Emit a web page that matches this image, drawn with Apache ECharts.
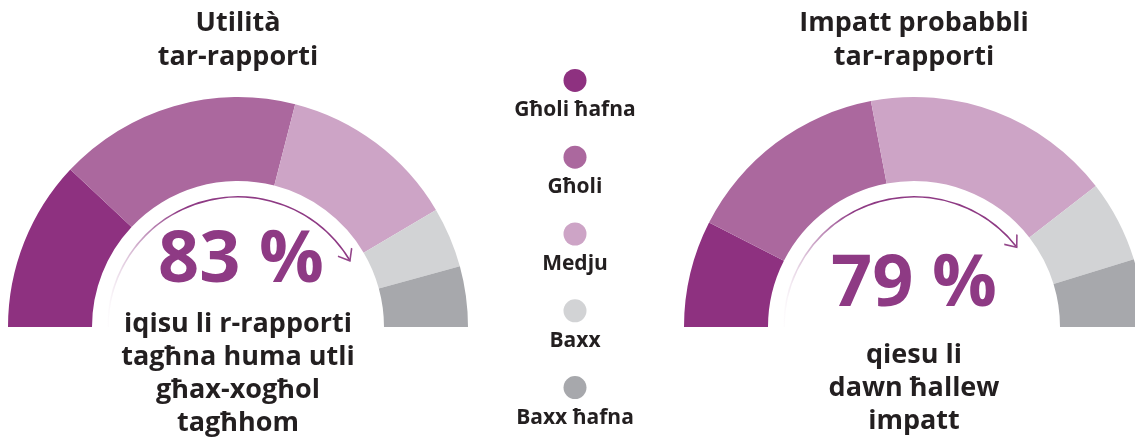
<!DOCTYPE html>
<html>
<head>
<meta charset="utf-8">
<script src="https://cdn.jsdelivr.net/npm/echarts@6/dist/echarts.min.js"></script>
<style>
  html, body { margin: 0; padding: 0; background: #ffffff; }
  #chart { width: 1135px; height: 444px; }
</style>
</head>
<body>
<div id="chart"></div>
<script>
// ---- Data ----
const levels = ['Għoli ħafna', 'Għoli', 'Medju', 'Baxx', 'Baxx ħafna'];
const utilityValues = [24, 34, 25, 8.5, 8.5];
const impactValues = [15, 29, 35, 11.5, 9.5];
const utilityScore = 83;
const impactScore = 79;
const utilityTitle = 'Utilità\ntar-rapporti';
const impactTitle = 'Impatt probabbli\ntar-rapporti';
const utilityCaption = 'iqisu li r-rapporti\ntagħna huma utli\ngħax-xogħol\ntagħhom';
const impactCaption = 'qiesu li\ndawn ħallew\nimpatt';

// ---- Styles ----
const levelColors = ['#8e3180', '#ab689e', '#cda4c6', '#d2d3d5', '#a7a8ac'];
const FONT = "'Open Sans', 'Noto Sans', sans-serif";
const TEXT = '#231f20';
const ACCENT = '#8e3a84';

const chart = echarts.init(document.getElementById('chart'), null, { renderer: 'canvas' });

function halfDonut(values, center) {
  const total = values.reduce((a, b) => a + b, 0);
  const data = values.map((v, i) => ({ name: levels[i], value: v, itemStyle: { color: levelColors[i] } }));
  data.push({ name: '', value: total, itemStyle: { color: 'rgba(0,0,0,0)' } });
  return {
    type: 'pie',
    center: center,
    radius: [146, 230],
    startAngle: 180,
    clockwise: true,
    silent: true,
    label: { show: false },
    labelLine: { show: false },
    itemStyle: { borderWidth: 0, opacity: 1 },
    data: data
  };
}

function arcGauge(score, caption, center, detailOffset, titleOffset) {
  return {
    type: 'gauge',
    center: center,
    radius: 131,
    startAngle: 180,
    endAngle: 0,
    min: 0,
    max: 100,
    silent: true,
    axisLine: { show: false },
    axisTick: { show: false },
    splitLine: { show: false },
    axisLabel: { show: false },
    pointer: { show: false },
    anchor: { show: false },
    progress: {
      show: true,
      width: 1.6,
      itemStyle: {
        color: {
          type: 'linear', x: 0, y: 0, x2: 1, y2: 0,
          colorStops: [
            { offset: 0, color: 'rgba(142,58,132,0)' },
            { offset: 0.3, color: 'rgba(142,58,132,1)' }
          ]
        }
      }
    },
    title: {
      show: true,
      offsetCenter: titleOffset,
      color: TEXT,
      fontFamily: FONT,
      fontWeight: 'bold',
      fontSize: 27,
      lineHeight: 33
    },
    detail: {
      show: true,
      offsetCenter: detailOffset,
      formatter: '{value} %',
      color: ACCENT,
      fontFamily: FONT,
      fontWeight: 'bold',
      fontSize: 72
    },
    data: [{ value: score, name: caption }]
  };
}

function arrowHead(score, polarIndex) {
  return {
    type: 'scatter',
    coordinateSystem: 'polar',
    polarIndex: polarIndex,
    silent: true,
    symbol: 'path://M0,10 L8,0 L16,10 M8,-10',
    symbolSize: [16, 20],
    symbolRotate: function (v) { return -v[1] * 1.8; },
    itemStyle: { color: 'rgba(0,0,0,0)', borderColor: '#93468a', borderWidth: 1.6, opacity: 1 },
    data: [[130, score]]
  };
}

const leftCenter = [238, 327];
const rightCenter = [914, 327];

const option = {
  animation: false,
  backgroundColor: '#ffffff',
  title: [
    {
      text: utilityTitle, left: 238, top: 6, textAlign: 'center', padding: 0,
      textStyle: { fontFamily: FONT, fontWeight: 'bold', fontSize: 27, lineHeight: 34, color: TEXT }
    },
    {
      text: impactTitle, left: 914, top: 6, textAlign: 'center', padding: 0,
      textStyle: { fontFamily: FONT, fontWeight: 'bold', fontSize: 27, lineHeight: 34, color: TEXT }
    }
  ],
  grid: { left: 525, width: 100, top: 42, height: 384 },
  xAxis: { type: 'value', min: -1, max: 1, show: false },
  yAxis: { type: 'category', data: levels, inverse: true, show: false },
  polar: [
    { center: leftCenter, radius: 230 },
    { center: rightCenter, radius: 230 }
  ],
  angleAxis: [
    { polarIndex: 0, type: 'value', min: 0, max: 200, startAngle: 180, clockwise: true, show: false },
    { polarIndex: 1, type: 'value', min: 0, max: 200, startAngle: 180, clockwise: true, show: false }
  ],
  radiusAxis: [
    { polarIndex: 0, type: 'value', min: 0, max: 230, show: false },
    { polarIndex: 1, type: 'value', min: 0, max: 230, show: false }
  ],
  series: [
    halfDonut(utilityValues, leftCenter),
    halfDonut(impactValues, rightCenter),
    arcGauge(utilityScore, utilityCaption, leftCenter, [3, -66], [0, 47]),
    arcGauge(impactScore, impactCaption, rightCenter, [0, -42], [0, 61]),
    arrowHead(utilityScore, 0),
    arrowHead(impactScore, 1),
    {
      type: 'scatter',
      silent: true,
      symbol: 'circle',
      symbolSize: 23,
      itemStyle: { opacity: 1 },
      label: {
        show: true,
        position: 'bottom',
        distance: 8,
        formatter: function (p) { return p.name; },
        fontFamily: FONT,
        fontWeight: 'bold',
        fontSize: 21,
        color: TEXT,
        opacity: 1
      },
      data: levels.map((n, i) => ({ name: n, value: [0, n], itemStyle: { color: levelColors[i], opacity: 1 } }))
    }
  ]
};

chart.setOption(option);
</script>
</body>
</html>
